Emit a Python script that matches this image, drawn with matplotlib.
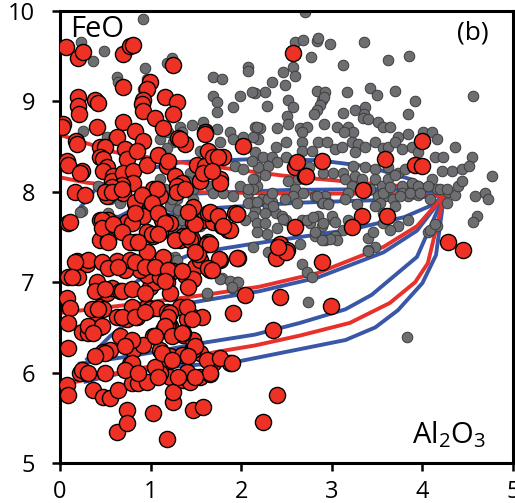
import matplotlib
matplotlib.use("Agg")
import matplotlib.pyplot as plt

plt.rcParams['font.family'] = ['Open Sans', 'DejaVu Sans']
plt.rcParams['mathtext.fontset'] = 'custom'
plt.rcParams['mathtext.rm'] = 'Open Sans'
plt.rcParams['mathtext.it'] = 'Open Sans:italic'

# ---------------- data ----------------
x_ticks = [0, 1, 2, 3, 4, 5]
y_ticks = [5, 6, 7, 8, 9, 10]

# model curves (Al2O3, FeO)
blue1_x = [0.20, 0.42, 0.80, 1.35, 2.10, 2.84, 3.40, 3.90, 4.24]
blue1_y = [7.80, 8.06, 8.22, 8.33, 8.36, 8.35, 8.28, 8.13, 7.96]
red1_x = [0.00, 0.60, 1.30, 2.45, 3.20, 3.80, 4.12, 4.24]
red1_y = [8.63, 8.44, 8.33, 8.18, 8.11, 8.06, 8.03, 7.96]
blue2_x = [0.60, 1.00, 1.50, 2.50, 3.50, 4.00, 4.24]
blue2_y = [7.70, 7.90, 7.98, 8.02, 8.03, 8.01, 7.96]
red2_x = [0.00, 0.30, 1.30, 2.50, 3.50, 4.24]
red2_y = [8.16, 8.10, 8.00, 7.98, 7.98, 7.96]
blue3_x = [0.70, 1.00, 1.70, 2.65, 3.57, 4.24]
blue3_y = [7.55, 7.72, 7.82, 7.88, 7.91, 7.96]
blue4_x = [0.70, 1.00, 1.47, 2.10, 3.20, 3.80, 4.10, 4.24]
blue4_y = [6.90, 7.12, 7.32, 7.42, 7.58, 7.72, 7.85, 7.96]
red3_x = [0.00, 0.50, 1.00, 1.60, 2.20, 2.84, 3.57, 3.94, 4.24]
red3_y = [6.66, 6.72, 6.78, 6.86, 6.95, 7.10, 7.39, 7.62, 7.96]
blue5_x = [0.30, 0.55, 0.80, 1.20, 1.60, 2.20, 2.84, 3.57, 3.94, 4.24]
blue5_y = [6.15, 6.40, 6.60, 6.73, 6.80, 6.90, 7.05, 7.33, 7.57, 7.96]
blue6_x = [0.22, 0.70, 1.00, 1.52, 2.15, 2.65, 3.15, 3.44, 3.94, 4.24]
blue6_y = [6.10, 6.17, 6.22, 6.32, 6.42, 6.55, 6.70, 6.86, 7.28, 7.96]
red4_x = [0.00, 0.50, 1.00, 1.73, 2.15, 2.65, 3.20, 3.64, 3.92, 4.06, 4.24]
red4_y = [5.86, 5.97, 6.07, 6.23, 6.30, 6.41, 6.55, 6.77, 7.00, 7.21, 7.96]
blue7_x = [0.28, 0.70, 1.30, 1.95, 2.65, 3.15, 3.48, 3.73, 4.00, 4.15, 4.24]
blue7_y = [5.90, 6.00, 6.07, 6.12, 6.26, 6.36, 6.50, 6.69, 6.99, 7.30, 7.96]

gray_points = [
    (2.70, 9.99), (2.59, 9.66), (2.68, 9.68), (2.84, 9.67), (2.85, 9.70), (2.98, 9.64), (3.36, 9.66),
    (2.77, 9.49), (3.12, 9.40), (3.62, 9.46), (3.85, 9.50), (2.57, 9.38), (2.59, 9.28), (2.46, 9.32),
    (2.34, 9.22), (2.48, 9.18), (2.26, 9.10), (2.15, 9.09), (2.84, 9.11), (2.89, 9.02), (2.93, 9.10),
    (2.91, 9.05), (3.17, 9.10), (3.42, 9.15), (3.50, 9.07), (3.70, 9.11), (3.92, 9.00), (4.56, 9.06),
    (2.52, 9.01), (2.57, 8.94), (2.28, 8.95), (2.87, 8.96), (2.84, 8.91), (3.26, 8.91), (3.37, 8.94),
    (3.35, 8.86), (3.12, 8.87), (3.84, 8.86), (2.51, 8.84), (2.52, 8.75), (2.80, 8.86), (2.91, 8.75),
    (2.15, 8.72), (2.21, 8.71), (2.40, 8.71), (2.65, 8.71), (2.73, 8.72), (2.67, 8.66), (3.06, 8.72),
    (3.18, 8.72), (3.23, 8.66), (3.13, 8.66), (3.34, 8.82), (3.40, 8.80), (3.51, 8.77), (3.57, 8.72),
    (3.64, 8.72), (3.73, 8.61), (3.84, 8.64), (4.01, 8.66), (4.11, 8.66), (4.16, 8.58), (4.36, 8.50),
    (2.19, 8.58), (2.38, 8.50), (2.49, 8.55), (2.67, 8.55), (2.67, 8.45), (2.78, 8.45), (2.85, 8.55),
    (2.95, 8.55), (3.04, 8.47), (3.11, 8.50), (3.22, 8.55), (3.29, 8.53), (3.26, 8.44), (3.37, 8.50),
    (3.48, 8.55), (3.56, 8.49), (3.62, 8.50), (3.70, 8.55), (3.78, 8.47), (3.89, 8.50), (2.15, 8.44),
    (2.24, 8.39), (2.34, 8.39), (2.49, 8.39), (2.40, 8.33), (2.30, 8.28), (2.19, 8.27), (2.75, 8.27),
    (2.90, 8.21), (3.01, 8.21), (3.12, 8.21), (3.23, 8.28), (3.37, 8.27), (3.48, 8.25), (3.62, 8.27),
    (3.73, 8.21), (3.81, 8.25), (3.95, 8.44), (4.14, 8.39), (4.23, 8.39), (4.33, 8.23), (4.44, 8.25),
    (4.55, 8.38), (4.51, 8.28), (4.77, 8.17), (4.69, 7.99), (4.72, 7.92), (4.58, 7.95), (4.60, 7.73),
    (4.56, 7.67), (4.22, 8.23), (4.11, 8.14), (4.16, 8.03), (4.28, 8.00), (4.36, 7.97), (4.39, 8.06),
    (4.44, 8.12), (2.15, 8.14), (2.26, 8.19), (2.17, 8.06), (2.52, 8.12), (2.63, 8.14), (2.59, 8.03),
    (2.68, 7.99), (2.23, 7.92), (2.34, 7.89), (2.30, 7.84), (2.82, 7.95), (2.93, 7.95), (2.89, 7.88),
    (2.96, 7.88), (3.15, 8.14), (3.26, 8.17), (3.22, 8.06), (3.18, 7.99), (3.33, 8.14), (3.48, 8.14),
    (3.55, 8.06), (3.62, 8.14), (3.70, 8.19), (3.78, 8.06), (3.89, 8.10), (3.95, 8.06), (4.06, 8.06),
    (3.51, 7.95), (3.59, 7.95), (3.53, 7.88), (3.67, 7.92), (3.78, 7.99), (3.84, 7.95), (3.95, 7.97),
    (2.15, 7.80), (2.26, 7.77), (2.38, 7.77), (2.45, 7.73), (2.49, 7.69), (2.67, 7.69), (2.76, 7.66),
    (2.85, 7.73), (2.89, 7.62), (3.01, 7.69), (3.12, 7.58), (3.04, 7.51), (3.18, 7.69), (3.48, 7.84),
    (3.56, 7.77), (3.70, 7.84), (3.84, 7.69), (3.56, 7.66), (3.73, 7.62), (4.06, 7.55), (4.16, 7.62),
    (2.82, 7.51), (2.93, 7.47), (3.40, 7.49), (3.48, 7.39), (3.40, 7.36),
    (0.92, 9.91), (0.23, 9.66), (0.36, 9.45), (0.49, 9.56), (0.63, 9.27), (0.64, 9.22), (0.94, 9.37),
    (1.18, 9.43), (1.24, 9.48), (0.96, 9.25), (0.92, 9.14), (1.69, 9.27), (1.79, 9.25), (2.08, 9.38),
    (2.07, 9.34), (1.99, 9.06), (2.12, 9.10), (1.69, 9.06), (1.73, 8.99), (1.73, 8.88), (1.91, 8.94),
    (1.46, 8.74), (1.58, 8.77), (1.62, 8.69), (1.73, 8.69), (1.77, 8.55), (1.88, 8.66), (1.91, 8.58),
    (2.02, 8.61), (2.13, 8.61), (2.17, 8.72), (1.32, 8.72), (1.35, 8.66), (1.19, 8.66), (1.10, 8.58),
    (1.55, 8.45), (1.69, 8.44), (0.25, 8.67), (1.25, 8.55), (1.18, 8.49), (1.55, 8.25), (1.43, 8.21),
    (1.40, 8.12), (1.47, 8.03), (1.66, 8.06), (1.69, 7.99), (1.80, 7.99), (1.91, 7.95), (1.99, 8.06),
    (2.13, 8.14), (1.93, 8.28), (2.02, 8.25), (2.12, 8.34), (2.07, 7.99), (2.13, 8.03), (2.13, 7.89),
    (2.07, 7.88), (0.24, 7.79), (1.99, 7.77), (2.13, 7.73), (0.55, 7.92), (0.59, 7.99), (0.66, 7.88),
    (1.21, 7.99), (1.29, 7.92), (1.21, 7.84), (1.47, 7.92), (1.55, 7.77), (1.47, 7.58), (1.55, 7.62),
    (1.30, 7.73), (1.32, 7.62), (1.25, 7.55), (0.52, 8.61), (0.59, 8.58), (1.10, 8.14), (1.07, 8.06),
    (2.07, 8.03), (2.17, 7.89), (2.30, 7.92), (2.35, 7.84), (2.04, 7.69), (2.17, 7.66), (2.26, 7.66),
    (2.46, 7.70), (2.40, 7.60), (2.29, 7.53), (2.17, 7.56), (2.73, 7.69), (2.79, 7.72), (2.90, 7.66),
    (3.00, 7.73), (3.04, 7.67), (3.06, 7.47), (2.98, 7.48), (2.89, 7.47), (2.82, 7.55), (2.65, 7.42),
    (2.13, 7.39), (2.30, 7.33), (2.67, 7.20), (2.73, 7.11), (2.78, 7.06), (3.40, 7.34), (3.64, 7.58),
    (3.46, 7.55), (4.08, 7.58), (4.14, 7.64), (2.74, 6.78), (3.83, 6.39), (1.79, 7.05), (1.90, 6.94),
    (1.95, 7.00), (1.62, 6.86), (4.08, 7.92), (4.19, 8.03), (4.27, 8.03), (4.27, 7.88), (3.86, 7.99),
    (3.97, 7.99), (3.75, 7.95), (3.56, 7.99), (3.64, 8.05), (3.42, 8.03), (3.15, 7.92), (3.28, 7.86),
    (2.84, 7.95), (2.90, 7.88), (2.96, 7.86), (2.57, 7.95), (2.62, 7.88), (2.48, 7.92), (2.34, 7.99),
    (0.22, 7.78), (0.42, 8.06), (0.53, 7.77), (0.61, 7.69), (0.72, 7.66), (0.83, 7.67), (0.94, 7.72),
    (1.05, 7.77), (0.97, 7.99), (1.16, 8.03), (1.24, 7.92), (1.30, 7.80), (1.35, 7.69), (1.38, 7.58),
    (1.40, 7.44), (1.27, 7.28), (1.16, 7.25), (1.19, 7.28), (1.29, 7.25), (1.35, 7.16), (1.58, 7.22),
    (1.77, 7.03), (1.88, 7.01), (1.97, 7.00), (1.62, 6.88), (1.90, 6.95), (1.19, 6.92),
]

red_points = [
    (0.07, 9.60), (0.20, 9.48), (0.25, 9.55), (0.70, 9.52), (0.77, 9.61), (0.81, 9.62), (1.25, 9.40),
    (0.99, 9.21), (0.96, 9.14), (0.70, 9.16), (0.20, 9.05), (0.20, 8.95), (0.21, 8.86), (0.39, 9.02),
    (0.42, 8.98), (0.03, 8.75), (0.02, 8.72), (0.41, 8.72), (0.92, 9.02), (0.91, 8.97), (0.92, 8.89),
    (1.16, 9.05), (1.29, 8.99), (1.25, 8.86), (1.05, 8.82), (1.14, 8.71), (0.70, 8.77), (0.63, 8.61),
    (0.83, 8.67), (0.92, 8.56), (1.30, 8.60), (1.38, 8.53), (0.18, 8.56), (0.19, 8.53), (0.44, 8.50),
    (0.50, 8.50), (0.72, 8.47), (0.74, 8.36), (0.85, 8.45), (0.08, 8.34), (0.09, 8.30), (0.24, 8.23),
    (0.22, 8.21), (0.44, 8.39), (0.47, 8.36), (0.52, 8.27), (0.47, 8.23), (0.59, 8.17), (0.57, 8.12),
    (0.70, 8.21), (0.81, 8.23), (0.81, 8.10), (0.96, 8.30), (1.08, 8.41), (1.18, 8.28), (1.19, 8.34),
    (1.27, 8.17), (1.35, 8.10), (1.29, 8.06), (0.86, 7.89), (0.83, 7.88), (0.17, 8.00), (0.28, 7.97),
    (0.70, 7.99), (0.68, 8.08), (1.03, 8.03), (1.10, 7.95), (0.57, 8.05), (0.52, 7.95), (1.07, 7.78),
    (1.14, 7.69), (1.10, 7.55), (0.92, 7.73), (1.47, 7.80), (1.58, 7.69), (1.51, 8.30), (1.60, 8.28),
    (1.55, 8.12), (1.58, 8.21), (1.63, 8.45), (1.69, 8.39), (1.77, 8.14), (1.80, 8.39), (1.60, 8.66),
    (2.02, 8.51), (1.93, 7.77), (0.09, 7.66), (0.11, 7.67), (0.44, 7.69), (0.53, 7.69), (0.74, 7.67),
    (0.80, 7.66), (1.69, 7.67), (1.79, 7.62), (1.85, 7.58), (1.36, 7.51), (1.46, 7.48), (1.32, 7.47),
    (0.44, 7.47), (0.53, 7.47), (0.96, 7.55), (1.03, 7.51), (0.83, 7.45), (1.63, 7.45),
    (2.57, 9.53), (4.00, 8.56), (2.89, 8.34), (2.59, 8.27), (2.70, 8.18), (3.59, 8.36), (3.92, 8.30),
    (4.00, 8.29), (3.34, 8.02), (3.33, 7.73), (3.22, 7.61), (3.61, 7.73), (2.59, 7.61), (2.43, 7.42),
    (2.51, 7.36), (4.28, 7.44), (4.45, 7.36),
    (0.19, 7.23), (0.30, 7.20), (0.09, 7.06), (0.20, 7.06), (0.41, 7.00), (0.08, 6.83), (0.11, 6.72),
    (0.09, 6.55), (0.24, 6.45), (0.31, 6.44), (0.35, 6.51), (0.44, 6.50), (0.09, 6.27), (0.22, 6.00),
    (0.30, 6.00), (0.08, 5.86), (0.09, 5.75), (0.36, 5.81), (0.47, 5.73), (0.55, 5.72), (0.64, 5.81),
    (0.63, 5.34), (0.74, 5.59), (0.74, 5.44), (0.80, 5.89), (0.77, 6.09), (0.86, 5.89), (0.96, 5.90),
    (1.03, 5.55), (1.18, 5.27), (1.21, 5.95), (1.25, 5.68), (1.25, 5.79), (1.10, 6.05), (1.10, 6.25),
    (1.36, 5.92), (1.43, 5.90), (1.55, 5.95), (1.47, 5.59), (1.58, 5.62), (1.66, 5.98), (1.69, 6.11),
    (1.66, 6.12), (1.88, 6.11), (1.91, 6.66), (2.04, 6.86), (1.97, 7.27), (1.46, 6.25), (1.55, 6.22),
    (1.03, 6.40), (1.14, 6.47), (1.21, 6.51), (1.36, 6.42), (1.47, 6.36), (0.81, 6.25), (0.92, 6.31),
    (0.55, 6.25), (0.47, 6.23), (0.66, 6.40), (0.80, 6.36), (0.41, 6.66), (0.44, 6.73), (0.47, 6.70),
    (0.52, 6.88), (0.57, 6.94), (0.66, 6.90), (0.63, 6.62), (0.74, 6.59), (0.85, 6.62), (0.96, 6.73),
    (0.99, 6.70), (1.07, 6.72), (1.18, 6.67), (1.19, 6.55), (1.32, 6.73), (1.40, 6.59), (1.47, 6.61),
    (0.99, 6.95), (1.05, 7.00), (0.96, 7.08), (0.88, 7.14), (1.25, 7.12), (1.38, 7.08), (1.49, 7.17),
    (1.55, 7.25), (1.66, 7.14), (1.77, 7.25), (1.95, 7.27), (0.72, 7.14), (0.63, 7.23), (0.77, 7.25),
    (0.96, 7.33), (1.14, 7.28),
    (2.38, 7.27), (2.49, 7.33), (2.89, 7.22), (2.43, 6.84), (2.99, 6.74), (2.35, 6.47), (2.39, 5.75),
    (2.24, 5.45), (1.95, 7.75), (2.41, 7.39), (1.75, 7.26), (1.63, 7.16),
    (1.07, 8.03), (1.29, 8.00), (1.77, 8.10), (1.13, 7.69), (1.21, 7.66), (1.47, 7.66), (1.63, 7.77),
    (1.88, 7.58), (1.43, 7.47), (1.62, 7.42), (1.52, 7.31), (1.68, 7.14), (1.47, 7.03), (1.41, 6.95),
    (1.10, 7.06), (1.18, 7.00), (1.21, 6.88), (1.40, 6.73), (1.21, 6.66), (1.18, 6.51), (1.57, 6.62),
    (1.36, 6.44), (1.21, 6.18), (1.35, 6.20), (1.47, 6.25), (1.62, 6.14), (1.77, 6.16), (1.90, 6.11),
    (1.10, 6.00), (1.40, 6.01), (1.66, 6.00),
    (1.60, 8.64), (1.32, 8.58), (1.74, 8.39), (1.68, 8.23), (1.38, 8.03), (1.47, 7.83), (1.66, 7.78),
    (1.74, 7.73), (1.80, 7.62), (1.66, 7.42), (2.62, 8.33), (2.71, 8.17),
    (0.50, 8.00), (0.57, 8.00), (0.68, 8.03), (0.83, 7.89), (0.91, 7.97), (1.02, 7.88), (0.83, 7.77),
    (1.08, 7.77), (1.16, 7.66), (0.46, 7.69), (0.46, 7.60), (0.59, 7.64), (0.68, 7.55), (0.53, 7.44),
    (0.77, 7.44), (0.86, 7.44), (1.02, 7.53), (1.08, 7.53), (1.27, 7.47), (1.40, 7.51), (1.49, 7.64),
    (1.41, 7.78), (1.49, 7.33), (0.31, 7.25), (0.17, 7.22), (0.46, 7.22), (0.53, 7.16), (0.64, 7.17),
    (0.83, 7.22), (0.94, 7.17), (1.05, 7.17), (1.19, 7.14), (1.35, 7.12),
    (0.13, 7.06), (0.39, 6.90), (0.50, 6.92), (0.68, 6.90), (0.80, 6.92), (0.94, 6.88), (1.16, 7.01),
    (0.80, 6.73), (0.68, 6.62), (0.83, 6.61), (0.94, 6.67), (0.35, 6.70), (0.42, 6.70), (0.31, 6.51),
    (0.46, 6.51), (0.36, 6.44), (1.19, 6.62), (1.16, 6.51), (1.24, 6.40), (1.05, 6.40), (1.35, 6.44),
    (1.46, 6.59), (1.49, 6.29), (1.41, 6.18), (0.50, 6.22), (0.39, 6.18), (0.72, 6.29), (0.80, 6.11),
    (1.05, 6.06), (1.13, 6.22), (1.24, 6.14), (0.24, 6.03), (0.31, 6.00), (0.50, 6.00), (0.72, 6.03),
    (0.86, 6.00), (1.08, 5.95), (1.30, 5.95), (1.49, 5.95),
]

# ---------------- styling ----------------
BLUE = '#3a57a7'
RED_LINE = '#e8312a'
RED_FACE = '#ee3124'
GRAY_FACE = '#6d6e71'
GRAY_EDGE = '#3c3c3c'

fig = plt.figure(figsize=(5.15, 5.03), dpi=100)
ax = fig.add_axes([60 / 515, 40 / 503, 453 / 515, 452 / 503])

blues = [(blue1_x, blue1_y), (blue2_x, blue2_y), (blue3_x, blue3_y), (blue4_x, blue4_y),
         (blue5_x, blue5_y), (blue6_x, blue6_y), (blue7_x, blue7_y)]
reds = [(red1_x, red1_y), (red2_x, red2_y), (red3_x, red3_y), (red4_x, red4_y)]
for bx, by in blues:
    ax.plot(bx, by, color=BLUE, lw=2.8, zorder=1, solid_joinstyle='round')
for rx, ry in reds:
    ax.plot(rx, ry, color=RED_LINE, lw=2.8, zorder=1.1, solid_joinstyle='round')

gx = [p[0] for p in gray_points]
gy = [p[1] for p in gray_points]
rx_ = [p[0] for p in red_points]
ry_ = [p[1] for p in red_points]
ax.scatter(gx, gy, s=58, c=GRAY_FACE, edgecolors=GRAY_EDGE, linewidths=0.7, zorder=2)
ax.scatter(rx_, ry_, s=135, c=RED_FACE, edgecolors='black', linewidths=1.0, zorder=3)

ax.set_xlim(0, 5)
ax.set_ylim(5, 10)
ax.set_xticks(x_ticks)
ax.set_yticks(y_ticks)
ax.set_xticklabels([str(t) for t in x_ticks])
ax.set_yticklabels([str(t) for t in y_ticks])
for sp in ax.spines.values():
    sp.set_linewidth(2.2)
    sp.set_color('black')
ax.tick_params(axis='both', direction='out', length=6, width=1.8, labelsize=17, color='black')
ax.tick_params(axis='y', pad=12)
ax.tick_params(axis='x', pad=6)

ax.text(0.11, 9.96, 'FeO', fontsize=21, va='top', ha='left', zorder=5)
ax.text(4.73, 9.90, '(b)', fontsize=19, va='top', ha='right', zorder=5)
ax.text(4.70, 5.22, r'Al$_2$O$_3$', fontsize=21, va='baseline', ha='right', zorder=5)

fig.savefig('out.png', dpi=100)
